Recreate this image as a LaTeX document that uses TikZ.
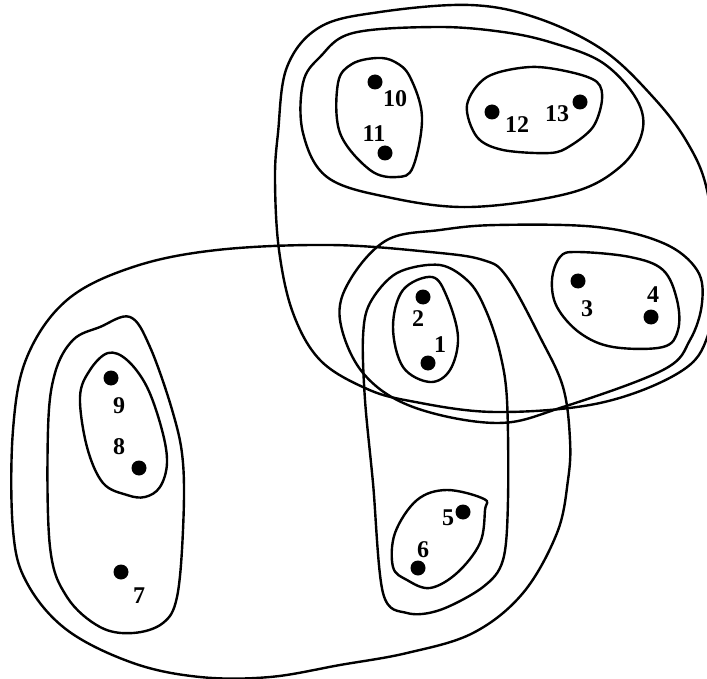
\documentclass[tikz,border=0pt]{standalone}
\usepackage{fontspec}
\setmainfont{Liberation Serif}
\begin{document}
\begin{tikzpicture}[x=1pt,y=-1pt,
  blob/.style={line width=2.4pt, line join=round},
  pt/.style={circle, fill=black, inner sep=0pt, minimum size=15pt},
  lab/.style={font=\fontsize{24}{26}\selectfont\bfseries, inner sep=0pt}]
\useasboundingbox (0,0) rectangle (707,679);
% outer top-right
\draw[blob] plot[smooth cycle, tension=0.6] coordinates {(470,5) (537,18) (603,50) (653,97) (687,142) (707,190) (716,270) (708,335) (680,372) (600,403) (495,412) (410,401) (365,388) (320,360) (293,313) (279,250) (275,180) (278,133) (287,67) (320,27) (380,12)};
% group 10-13
\draw[blob] plot[smooth cycle, tension=0.6] coordinates {(353,33) (437,27) (503,32) (553,43) (603,63) (637,100) (642,133) (620,167) (570,193) (470,207) (387,197) (327,177) (303,133) (303,83) (320,57)};
% group 10,11
\draw[blob] plot[smooth cycle, tension=0.6] coordinates {(377,58) (395,62) (410,77) (422,117) (413,167) (397,177) (370,170) (340,133) (338,83) (352,64)};
% group 12,13
\draw[blob] plot[smooth cycle, tension=0.55] coordinates {(467,105) (487,77) (530,67) (570,72) (597,82) (602,100) (593,127) (570,146) (550,153) (503,150) (477,137)};
% group 1,2,3,4
\draw[blob] plot[smooth cycle, tension=0.6] coordinates {(387,240) (440,230) (497,225) (597,227) (663,243) (697,270) (702,303) (690,340) (663,370) (563,407) (497,423) (413,407) (363,373) (340,320) (350,280)};
% group 1,2
\draw[blob] plot[smooth cycle, tension=0.6] coordinates {(432,277) (447,297) (458,337) (450,370) (430,382) (403,367) (393,327) (403,290)};
% group 3,4
\draw[blob] plot[smooth cycle, tension=0.6] coordinates {(577,252) (630,257) (663,270) (677,300) (678,330) (663,347) (613,347) (580,333) (557,307) (552,280) (560,257)};
% tall group 1,2,5,6
\draw[blob] plot[smooth cycle, tension=0.55] coordinates {(440,265) (470,283) (487,313) (500,353) (507,400) (508,500) (503,560) (483,587) (440,610) (407,613) (383,593) (373,483) (365,400) (363,337) (370,303) (397,273)};
% group 5,6
\draw[blob] plot[smooth cycle, tension=0.6] coordinates {(447,490) (484,499) (485,510) (480,543) (457,573) (430,588) (407,580) (393,567) (395,533) (417,500)};
% big bottom-left
\draw[blob] plot[smooth cycle, tension=0.6] coordinates {(330,245) (430,252) (483,260) (507,277) (540,337) (563,387) (570,440) (568,480) (557,533) (523,593) (473,633) (407,653) (340,665) (270,677) (200,677) (133,663) (67,630) (27,583) (13,530) (13,430) (27,357) (67,300) (133,267) (217,250)};
% group 7,8,9
\draw[blob] plot[smooth cycle, tension=0.6] coordinates {(130,317) (150,347) (173,413) (183,463) (183,530) (177,597) (163,623) (133,633) (100,627) (67,597) (50,547) (48,430) (55,373) (73,340) (100,327)};
% group 8,9
\draw[blob] plot[smooth cycle, tension=0.6] coordinates {(108,353) (127,360) (147,387) (162,430) (167,463) (160,487) (145,497) (127,495) (103,483) (87,447) (80,397) (90,370)};
% points
\node[pt] (p1) at (428,363) {};
\node[pt] (p2) at (423,297) {};
\node[pt] (p3) at (578,281) {};
\node[pt] (p4) at (651,317) {};
\node[pt] (p5) at (463,512) {};
\node[pt] (p6) at (418,568) {};
\node[pt] (p7) at (121,572) {};
\node[pt] (p8) at (139,468) {};
\node[pt] (p9) at (111,378) {};
\node[pt] (p10) at (375,82) {};
\node[pt] (p11) at (385,153) {};
\node[pt] (p12) at (492,112) {};
\node[pt] (p13) at (580,102) {};
% labels
\node[lab] (l1) at (440,345) {1};
\node[lab] (l2) at (418,319) {2};
\node[lab] (l3) at (587,309) {3};
\node[lab] (l4) at (653,295) {4};
\node[lab] (l5) at (448,518) {5};
\node[lab] (l6) at (423,550) {6};
\node[lab] (l7) at (139,596) {7};
\node[lab] (l8) at (119,447) {8};
\node[lab] (l9) at (119,406) {9};
\node[lab] (l10) at (395,99) {10};
\node[lab] (l11) at (374,134) {11};
\node[lab] (l12) at (517,125) {12};
\node[lab] (l13) at (557,114) {13};
\end{tikzpicture}
\end{document}
